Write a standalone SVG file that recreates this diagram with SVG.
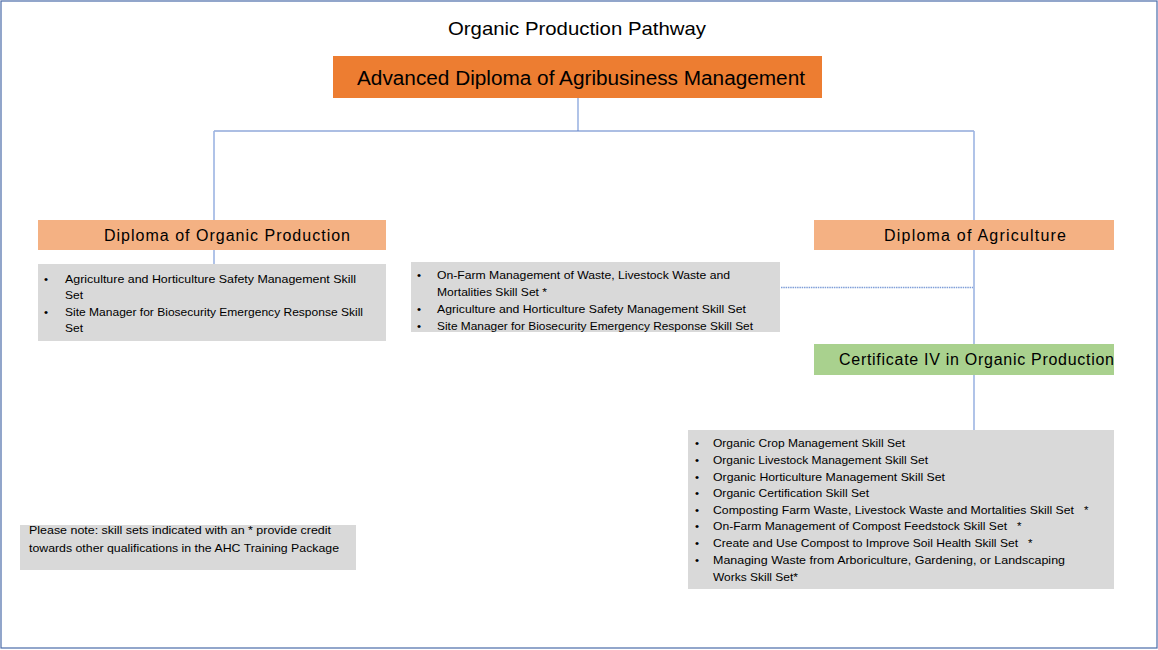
<svg xmlns="http://www.w3.org/2000/svg" width="1158" height="650" viewBox="0 0 1158 650">
<style>
text{font-family:"Liberation Sans",Arial,sans-serif;fill:#000}
.b{font-size:11.5px}
.h{font-size:16px}
.gray{fill:#D9D9D9}
.vline{stroke:#9DB5E3;stroke-width:1.6;fill:none}
.hline{stroke:#5B7FC8;stroke-width:1.2;fill:none}
</style>
<rect x="1" y="1" width="1156" height="647" fill="#fff" stroke="#4A6BA8" stroke-width="1.2"/>
<text x="577" y="35" font-size="19" text-anchor="middle" textLength="258" lengthAdjust="spacingAndGlyphs">Organic Production Pathway</text>
<g id="connectors">
<path class="vline" d="M578 98V131"/>
<path class="hline" d="M214 131H974"/>
<path class="vline" d="M214 131V220M214 250V264"/>
<path class="vline" d="M974 131V430"/>
<path d="M781 287.5H973" stroke="#7F9ED8" stroke-width="1.5" stroke-dasharray="1.5 0.8" fill="none"/>
</g>
<g id="advanced">
<rect x="333" y="56" width="489" height="42" fill="#ED7D31"/>
<text x="357" y="85" font-size="20" textLength="448" lengthAdjust="spacingAndGlyphs">Advanced Diploma of Agribusiness Management</text>
</g>
<g id="diploma-organic">
<rect x="38" y="220" width="348" height="30" fill="#F4B183"/>
<text class="h" x="104" y="241" textLength="246" lengthAdjust="spacing">Diploma of Organic Production</text>
</g>
<g id="diploma-organic-skills">
<rect class="gray" x="38" y="264" width="348" height="77"/>
<text class="b" x="44" y="283">•</text><text class="b" x="65" y="283" textLength="291" lengthAdjust="spacingAndGlyphs">Agriculture and Horticulture Safety Management Skill</text>
<text class="b" x="65" y="299" textLength="18" lengthAdjust="spacingAndGlyphs">Set</text>
<text class="b" x="44" y="316">•</text><text class="b" x="65" y="316" textLength="298" lengthAdjust="spacingAndGlyphs">Site Manager for Biosecurity Emergency Response Skill</text>
<text class="b" x="65" y="332" textLength="18" lengthAdjust="spacingAndGlyphs">Set</text>
</g>
<g id="middle-skills">
<rect class="gray" x="411" y="262" width="369" height="70"/>
<text class="b" x="417" y="279">•</text><text class="b" x="437" y="279" textLength="293" lengthAdjust="spacingAndGlyphs">On-Farm Management of Waste, Livestock Waste and</text>
<text class="b" x="437" y="296" textLength="110" lengthAdjust="spacingAndGlyphs">Mortalities Skill Set *</text>
<text class="b" x="417" y="313">•</text><text class="b" x="437" y="313" textLength="309" lengthAdjust="spacingAndGlyphs">Agriculture and Horticulture Safety Management Skill Set</text>
<text class="b" x="417" y="330">•</text><text class="b" x="437" y="330" textLength="316" lengthAdjust="spacingAndGlyphs">Site Manager for Biosecurity Emergency Response Skill Set</text>
</g>
<g id="diploma-agriculture">
<rect x="814" y="220" width="300" height="30" fill="#F4B183"/>
<text class="h" x="884" y="241" textLength="182" lengthAdjust="spacing">Diploma of Agriculture</text>
</g>
<g id="certificate-iv">
<rect x="814" y="344" width="300" height="31" fill="#A9D18E"/>
<text class="h" x="839" y="365" textLength="275" lengthAdjust="spacing">Certificate IV in Organic Production</text>
</g>
<g id="certificate-skills">
<rect class="gray" x="688" y="430" width="426" height="159"/>
<text class="b" x="695" y="447">•</text><text class="b" x="713" y="447" textLength="192" lengthAdjust="spacingAndGlyphs">Organic Crop Management Skill Set</text>
<text class="b" x="695" y="464">•</text><text class="b" x="713" y="464" textLength="215" lengthAdjust="spacingAndGlyphs">Organic Livestock Management Skill Set</text>
<text class="b" x="695" y="481">•</text><text class="b" x="713" y="481" textLength="232" lengthAdjust="spacingAndGlyphs">Organic Horticulture Management Skill Set</text>
<text class="b" x="695" y="497">•</text><text class="b" x="713" y="497" textLength="156" lengthAdjust="spacingAndGlyphs">Organic Certification Skill Set</text>
<text class="b" x="695" y="514">•</text><text class="b" x="713" y="514" textLength="361" lengthAdjust="spacingAndGlyphs">Composting Farm Waste, Livestock Waste and Mortalities Skill Set</text><text class="b" x="1084" y="514">*</text>
<text class="b" x="695" y="530">•</text><text class="b" x="713" y="530" textLength="294" lengthAdjust="spacingAndGlyphs">On-Farm Management of Compost Feedstock Skill Set</text><text class="b" x="1017" y="530">*</text>
<text class="b" x="695" y="547">•</text><text class="b" x="713" y="547" textLength="305" lengthAdjust="spacingAndGlyphs">Create and Use Compost to Improve Soil Health Skill Set</text><text class="b" x="1028" y="547">*</text>
<text class="b" x="695" y="564">•</text><text class="b" x="713" y="564" textLength="352" lengthAdjust="spacingAndGlyphs">Managing Waste from Arboriculture, Gardening, or Landscaping</text>
<text class="b" x="713" y="581" textLength="85" lengthAdjust="spacingAndGlyphs">Works Skill Set*</text>
</g>
<g id="note">
<rect class="gray" x="20" y="525" width="336" height="45"/>
<text class="b" x="29" y="534" textLength="302" lengthAdjust="spacingAndGlyphs">Please note: skill sets indicated with an * provide credit</text>
<text class="b" x="29" y="552" textLength="310" lengthAdjust="spacingAndGlyphs">towards other qualifications in the AHC Training Package</text>
</g>
</svg>
